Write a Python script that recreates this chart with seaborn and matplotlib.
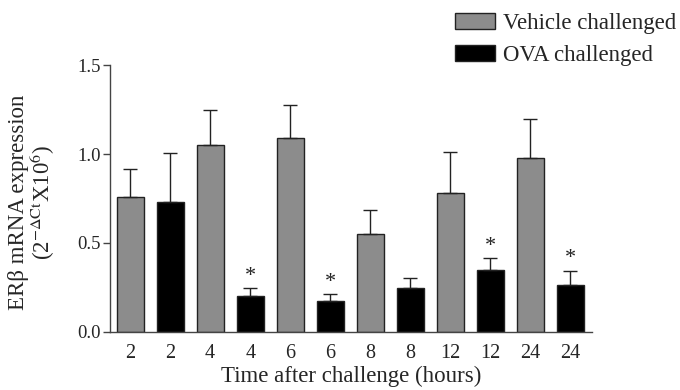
import numpy as np
import pandas as pd
import matplotlib
matplotlib.use("Agg")
import matplotlib.pyplot as plt
import seaborn as sns

# values
tick_labels = ["2", "2", "4", "4", "6", "6", "8", "8", "12", "12", "24", "24"]
groups = ["Vehicle challenged", "OVA challenged"] * 6
means = [0.76, 0.73, 1.05, 0.20, 1.09, 0.175, 0.55, 0.245, 0.78, 0.35, 0.975, 0.265]
sems = [0.155, 0.275, 0.20, 0.045, 0.185, 0.04, 0.135, 0.06, 0.23, 0.065, 0.22, 0.08]
significant = [False, False, False, True, False, True, False, False, False, True, False, True]

df = pd.DataFrame({
    "pos": np.arange(len(means)),
    "value": means,
    "group": groups,
})

sns.set_style("ticks")
plt.rcParams["font.family"] = ["Liberation Serif", "DejaVu Serif"]
plt.rcParams["mathtext.fontset"] = "stix"

fig = plt.figure(figsize=(6.8, 3.9), dpi=100)
ax = fig.add_axes([0.162, 0.149, 0.709, 0.684])

palette = {"Vehicle challenged": "#8c8c8c", "OVA challenged": "#000000"}
sns.barplot(data=df, x="pos", y="value", hue="group", palette=palette,
            dodge=False, width=0.67, edgecolor="#222222", linewidth=1.0,
            saturation=1, ax=ax, legend=True)

ax.errorbar(df["pos"], means, yerr=[np.zeros(len(sems)), sems], fmt="none",
            ecolor="#222222", elinewidth=1.0, capsize=5, capthick=1.0, zorder=1)

for i, s in enumerate(significant):
    if s:
        ax.text(i, means[i] + sems[i] + 0.012, "*", ha="center", va="bottom",
                fontsize=16, color="#222222")

ax.set_ylim(0, 1.5)
ax.set_xlim(-0.5, 11.55)
ax.set_yticks([0.0, 0.5, 1.0, 1.5])
ax.set_yticklabels(["0.0", "0.5", "1.0", "1.5"], fontsize=13.5)
ax.set_xticks(df["pos"])
ax.set_xticklabels(tick_labels, fontsize=14.5)
ax.tick_params(axis="x", length=0, pad=9)
ax.tick_params(axis="y", length=5, width=1, color="#444444", pad=2)
sns.despine(ax=ax)
for sp in ["left", "bottom"]:
    ax.spines[sp].set_color("#444444")
    ax.spines[sp].set_linewidth(1.0)

ax.set_xlabel("Time after challenge (hours)", fontsize=16.5, labelpad=2)
ax.set_ylabel("ER\u03b2 mRNA expression\n(2$^{-\\Delta\\mathrm{Ct}}$X10$^{6}$)",
              fontsize=16.5, linespacing=0.95)
ax.yaxis.set_label_coords(-0.11, 0.485)

handles, labels = ax.get_legend_handles_labels()
ax.get_legend().remove()
fig.legend(handles, labels, loc="upper left", bbox_to_anchor=(0.669, 0.967),
           frameon=False, fontsize=16.5, handlelength=1.75, handleheight=0.7,
           handletextpad=0.35, labelspacing=0.5, borderaxespad=0, borderpad=0)

fig.savefig("out.png", dpi=100)
